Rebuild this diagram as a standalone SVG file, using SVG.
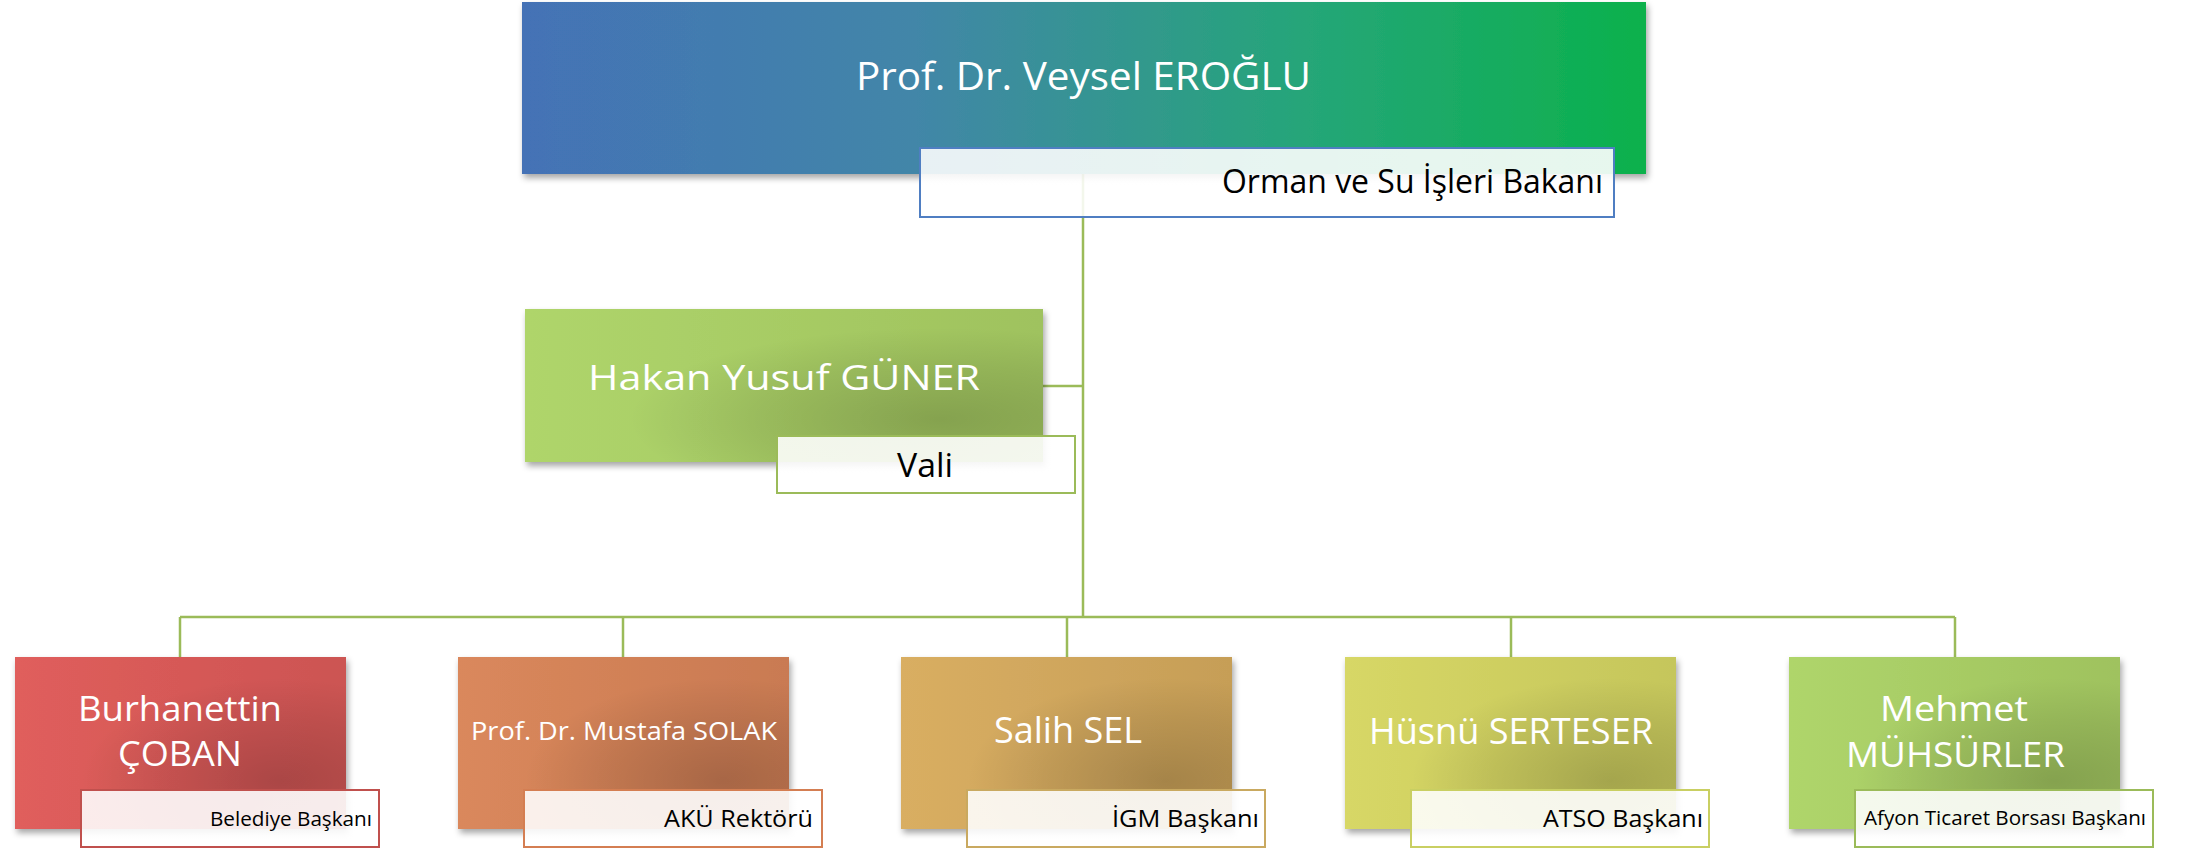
<svg xmlns="http://www.w3.org/2000/svg" width="2195" height="849" viewBox="0 0 2195 849">
<defs>
  <filter id="sh" x="-5%" y="-5%" width="115%" height="120%">
    <feDropShadow dx="2" dy="4" stdDeviation="3" flood-color="#000" flood-opacity="0.35"/>
  </filter>
  <linearGradient id="gTop" x1="0" y1="0" x2="1" y2="0">
    <stop offset="0" stop-color="#4472b6"/>
    <stop offset="0.35" stop-color="#4286a8"/>
    <stop offset="0.7" stop-color="#25a678"/>
    <stop offset="1" stop-color="#0bb14c"/>
  </linearGradient>
  <radialGradient id="dark" cx="0.8" cy="0.72" r="0.6">
    <stop offset="0" stop-color="#000" stop-opacity="0.18"/>
    <stop offset="0.6" stop-color="#000" stop-opacity="0.08"/>
    <stop offset="1" stop-color="#000" stop-opacity="0"/>
  </radialGradient>
  <linearGradient id="gGreen" x1="0" y1="0" x2="1" y2="0">
    <stop offset="0" stop-color="#afd56b"/><stop offset="1" stop-color="#9fc25e"/>
  </linearGradient>
  <linearGradient id="gRed" x1="0" y1="0" x2="1" y2="0">
    <stop offset="0" stop-color="#e05e5c"/><stop offset="1" stop-color="#cc5452"/>
  </linearGradient>
  <linearGradient id="gOrange" x1="0" y1="0" x2="1" y2="0">
    <stop offset="0" stop-color="#da885c"/><stop offset="1" stop-color="#c97a52"/>
  </linearGradient>
  <linearGradient id="gGold" x1="0" y1="0" x2="1" y2="0">
    <stop offset="0" stop-color="#d9ae62"/><stop offset="1" stop-color="#c69e57"/>
  </linearGradient>
  <linearGradient id="gYel" x1="0" y1="0" x2="1" y2="0">
    <stop offset="0" stop-color="#d7d766"/><stop offset="1" stop-color="#c5c65b"/>
  </linearGradient>
  <linearGradient id="gSub" x1="0" y1="0" x2="1" y2="0">
    <stop offset="0" stop-color="#fff" stop-opacity="0.88"/>
    <stop offset="1" stop-color="#fff" stop-opacity="0.9"/>
  </linearGradient>
</defs>
<style>
  .conn { stroke: #9bbb59; stroke-width: 2.5; fill: none; }
  .name { font-family: "Open Sans", "Liberation Sans", sans-serif; fill: #ffffff; }
  .role { font-family: "Open Sans", "Liberation Sans", sans-serif; fill: #000000; }
  .sub { fill: url(#gSub); stroke-width: 2; }
  .box { filter: url(#sh); }
</style>
<rect width="2195" height="849" fill="#ffffff"/>

<g id="connectors">
  <path class="conn" d="M1083,174 V617"/>
  <path class="conn" d="M1043,386 H1083"/>
  <path class="conn" d="M180,617 H1955"/>
  <path class="conn" d="M180,617 V657"/>
  <path class="conn" d="M623,617 V657"/>
  <path class="conn" d="M1067,617 V657"/>
  <path class="conn" d="M1511,617 V657"/>
  <path class="conn" d="M1955,617 V657"/>
</g>

<g id="node-eroglu">
  <rect class="box" x="522" y="2" width="1124" height="172" fill="url(#gTop)"/>
  <text class="name" x="856" y="90" font-size="39" textLength="455" lengthAdjust="spacingAndGlyphs">Prof. Dr. Veysel EROĞLU</text>
  <rect class="sub" x="920" y="148" width="694" height="69" stroke="#4f7ec2"/>
  <text class="role" x="1222" y="193" font-size="32" textLength="381" lengthAdjust="spacingAndGlyphs">Orman ve Su İşleri Bakanı</text>
</g>

<g id="node-guner">
  <rect class="box" x="525" y="309" width="518" height="153" fill="url(#gGreen)"/>
  <rect x="525" y="309" width="518" height="153" fill="url(#dark)"/>
  <text class="name" x="588" y="390" font-size="35" textLength="392" lengthAdjust="spacingAndGlyphs">Hakan Yusuf GÜNER</text>
  <rect class="sub" x="777" y="436" width="298" height="57" stroke="#9bbb59"/>
  <text class="role" x="897" y="477" font-size="32" textLength="56" lengthAdjust="spacingAndGlyphs">Vali</text>
</g>

<g id="node-coban">
  <rect class="box" x="15" y="657" width="331" height="172" fill="url(#gRed)"/>
  <rect x="15" y="657" width="331" height="172" fill="url(#dark)"/>
  <text class="name" x="78" y="721" font-size="34" textLength="204" lengthAdjust="spacingAndGlyphs">Burhanettin</text>
  <text class="name" x="118" y="766" font-size="34" textLength="124" lengthAdjust="spacingAndGlyphs">ÇOBAN</text>
  <rect class="sub" x="81" y="790" width="298" height="57" stroke="#c0504d"/>
  <text class="role" x="210" y="826" font-size="20" textLength="162" lengthAdjust="spacingAndGlyphs">Belediye Başkanı</text>
</g>

<g id="node-solak">
  <rect class="box" x="458" y="657" width="331" height="172" fill="url(#gOrange)"/>
  <rect x="458" y="657" width="331" height="172" fill="url(#dark)"/>
  <text class="name" x="471" y="740" font-size="26" textLength="306" lengthAdjust="spacingAndGlyphs">Prof. Dr. Mustafa SOLAK</text>
  <rect class="sub" x="524" y="790" width="298" height="57" stroke="#d47e52"/>
  <text class="role" x="664" y="827" font-size="24" textLength="149" lengthAdjust="spacingAndGlyphs">AKÜ Rektörü</text>
</g>

<g id="node-sel">
  <rect class="box" x="901" y="657" width="331" height="172" fill="url(#gGold)"/>
  <rect x="901" y="657" width="331" height="172" fill="url(#dark)"/>
  <text class="name" x="994" y="743" font-size="36" textLength="148" lengthAdjust="spacingAndGlyphs">Salih SEL</text>
  <rect class="sub" x="967" y="790" width="298" height="57" stroke="#c9a960"/>
  <text class="role" x="1112" y="827" font-size="24" textLength="147" lengthAdjust="spacingAndGlyphs">İGM Başkanı</text>
</g>

<g id="node-serteser">
  <rect class="box" x="1345" y="657" width="331" height="172" fill="url(#gYel)"/>
  <rect x="1345" y="657" width="331" height="172" fill="url(#dark)"/>
  <text class="name" x="1369" y="744" font-size="36" textLength="284" lengthAdjust="spacingAndGlyphs">Hüsnü SERTESER</text>
  <rect class="sub" x="1411" y="790" width="298" height="57" stroke="#c9cf62"/>
  <text class="role" x="1543" y="827" font-size="24" textLength="160" lengthAdjust="spacingAndGlyphs">ATSO Başkanı</text>
</g>

<g id="node-muhsurler">
  <rect class="box" x="1789" y="657" width="331" height="172" fill="url(#gGreen)"/>
  <rect x="1789" y="657" width="331" height="172" fill="url(#dark)"/>
  <text class="name" x="1880" y="721" font-size="34" textLength="148" lengthAdjust="spacingAndGlyphs">Mehmet</text>
  <text class="name" x="1846" y="767" font-size="34" textLength="219" lengthAdjust="spacingAndGlyphs">MÜHSÜRLER</text>
  <rect class="sub" x="1855" y="790" width="298" height="57" stroke="#9bbb59"/>
  <text class="role" x="1864" y="825" font-size="20" textLength="282" lengthAdjust="spacingAndGlyphs">Afyon Ticaret Borsası Başkanı</text>
</g>
</svg>
